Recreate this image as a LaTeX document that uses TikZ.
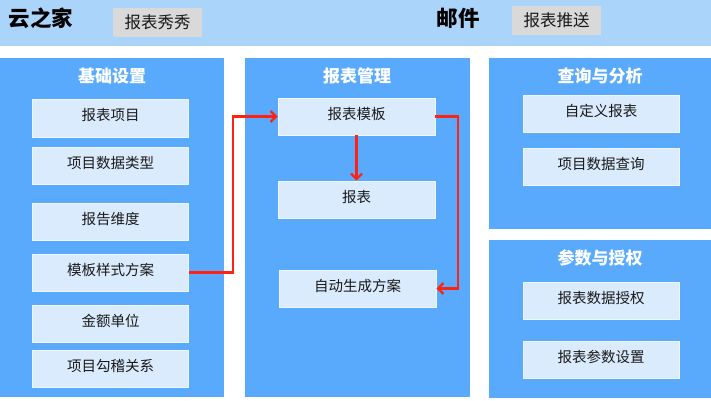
\documentclass[tikz,border=0pt]{standalone}
\usepackage{fontspec}
\setmainfont{Noto Sans CJK SC}
\usetikzlibrary{arrows.meta}
\definecolor{barblue}{HTML}{ABD4FB}
\definecolor{panelblue}{HTML}{59AAFD}
\definecolor{boxfill}{HTML}{DAEBFD}
\definecolor{boxline}{HTML}{EEF6FF}
\definecolor{grayfill}{HTML}{D9D9D9}
\definecolor{arrowred}{HTML}{FF2212}
\definecolor{txt}{HTML}{1A1A1A}
\begin{document}
\begin{tikzpicture}[x=1pt,y=-1pt,
  panel/.style={fill=panelblue,draw=none},
  item/.style={fill=boxfill,draw=boxline,line width=0.8pt,minimum width=156pt,minimum height=37pt,inner sep=0pt,text=txt,text height=12.8pt,text depth=7.5pt,font=\fontsize{14.5}{16}\selectfont},
  graybox/.style={fill=grayfill,draw=none,minimum width=89pt,minimum height=29pt,inner sep=0pt,text=txt,font=\fontsize{16.5}{18}\selectfont},
  paneltitle/.style={text=white,font=\fontsize{17}{19}\selectfont\bfseries,inner sep=0pt},
  bartitle/.style={text=black,font=\fontsize{21.5}{23}\selectfont\bfseries,inner sep=0pt},
  flow/.style={draw=arrowred,line width=2.5pt,-{Straight Barb[length=5.5pt,width=11pt,line width=2.2pt]}}
]
\useasboundingbox (0,0) rectangle (711,400);
\fill[white] (0,0) rectangle (711,400);
% top bar
\fill[barblue] (0,0) rectangle (711,46);
\node[bartitle] (yzj) at (41,18) {云之家};
\node[graybox] (bxxx) at (157.5,22.5) {报表秀秀};
\node[bartitle] (yj) at (458,18) {邮件};
\node[graybox] (bbts) at (556.5,20) {报表推送};
% panels
\fill[panel] (0,58) rectangle (224,397);
\fill[panel] (245,58) rectangle (470,397);
\fill[panel] (489,58) rectangle (711,229);
\fill[panel] (489,240) rectangle (711,398);
\node[paneltitle] (t1) at (112,76) {基础设置};
\node[paneltitle] (t2) at (357,76) {报表管理};
\node[paneltitle] (t3) at (600,76) {查询与分析};
\node[paneltitle] (t4) at (600,258) {参数与授权};
% left column
\node[item,minimum height=38pt] (a1) at (110.5,118) {报表项目};
\node[item] (a2) at (110.5,166) {项目数据类型};
\node[item] (a3) at (110.5,221.5) {报告维度};
\node[item] (a4) at (110.5,272.5) {模板样式方案};
\node[item] (a5) at (110.5,323.5) {金额单位};
\node[item] (a6) at (110.5,369) {项目勾稽关系};
% middle column
\node[item,minimum width=157pt] (b1) at (356.5,116.5) {报表模板};
\node[item,minimum width=157pt] (b2) at (356.5,199.5) {报表};
\node[item,minimum width=157pt] (b3) at (357.5,288.5) {自动生成方案};
% right column
\node[item] (c1) at (601,113.5) {自定义报表};
\node[item] (c2) at (601,167) {项目数据查询};
\node[item] (d1) at (601,301) {报表数据授权};
\node[item] (d2) at (601,360) {报表参数设置};
% connectors
\coordinate (k1) at (233,272.5);
\coordinate (k2) at (233,116.5);
\draw[flow] (a4.east) -- (k1) -- (k2) -- (b1.west);
\draw[flow] (b1.south) -- (b2.north);
\coordinate (k3) at (458,116.5);
\coordinate (k4) at (458,288.5);
\draw[flow] (b1.east) -- (k3) -- (k4) -- (b3.east);
\end{tikzpicture}
\end{document}
